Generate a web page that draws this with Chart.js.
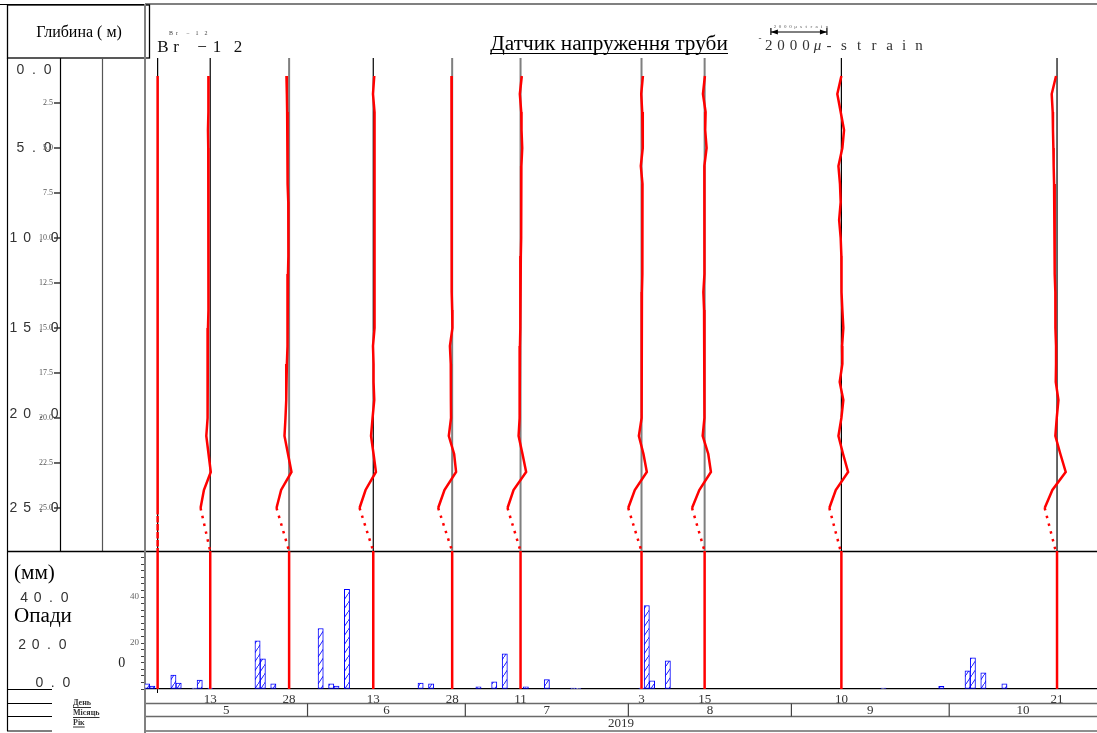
<!DOCTYPE html>
<html><head><meta charset="utf-8">
<script src="https://cdn.jsdelivr.net/npm/chart.js@4"></script>
<style>html,body{margin:0;padding:0;background:#fff;}canvas{display:block;}</style>
</head><body>
<canvas id="c" width="1097" height="733"></canvas>
<script>
// ---------------- DATA ----------------
const profileDates = ['2019-05-03','2019-05-13','2019-05-28','2019-06-13','2019-06-28','2019-07-11','2019-08-03','2019-08-15','2019-09-10','2019-10-21'];
const dateTickLabels = ['', '13', '28', '13', '28', '11', '3', '15', '10', '21'];
const depths = [1,2,3,4,5,6,7,8,9,10,11,12,13,14,15,16,17,18,19,20,21,22,23,24,25,27.4];
// strain readings (micro-strain) at each depth, one list per measuring date
const strainMay03 = [0,0,0,0,0,0,0,0,0,0,0,0,0,0,0,0,0,0,0,0,0,0,0,0,0,0];
const strainMay13 = [-60,-70,-60,-80,-70,-60,-70,-60,-50,-60,-70,-70,-60,-70,-80,-80,-90,-90,-100,-110,-140,-60,20,-225,-345,0];
const strainMay28 = [-95,-80,-70,-65,-60,-50,-40,-30,-25,-25,-30,-40,-40,-50,-70,-70,-80,-95,-110,-130,-165,-40,85,-285,-450,0];
const strainJun13 = [35,-10,45,50,50,50,50,50,45,45,45,45,40,40,40,-10,10,10,35,-25,-80,10,95,-275,-490,0];
const strainJun28 = [-25,-15,-15,-10,-10,-10,-15,-15,-20,-40,-30,-20,-10,0,10,-80,-50,-45,-45,-40,-120,70,140,-275,-500,0];
const strainJul11 = [45,-25,25,35,60,30,25,25,20,20,10,0,-10,-10,-10,-20,-30,-30,-35,-35,-70,70,200,-250,-465,0];
const strainAug03 = [50,-10,25,50,40,-25,35,35,30,30,30,25,15,15,15,10,10,-10,0,-10,-95,70,190,-240,-475,0];
const strainAug15 = [10,-60,35,20,70,-10,-10,-5,-5,0,-5,-15,-45,-20,-10,-10,-5,-10,-5,0,-70,130,225,-190,-450,0];
const strainSep10 = [0,-145,-25,95,35,-105,-50,-25,-80,-25,0,0,10,35,70,25,35,-60,70,0,-105,60,240,-200,-430,-25];
const strainOct21 = [-35,-190,-155,-145,-130,-120,-105,-95,-85,-80,-80,-75,-60,-60,-55,-35,-35,-45,50,-10,-60,120,310,-165,-440,-45];
const strainProfiles = [strainMay03,strainMay13,strainMay28,strainJun13,strainJun28,strainJul11,strainAug03,strainAug15,strainSep10,strainOct21];

const precipDates = ['2019-05-01','2019-05-02','2019-05-06','2019-05-07','2019-05-10','2019-05-11','2019-05-13','2019-05-22','2019-05-23','2019-05-25',
  '2019-06-03','2019-06-05','2019-06-06','2019-06-08','2019-06-22','2019-06-24','2019-07-03','2019-07-06','2019-07-08','2019-07-12',
  '2019-07-16','2019-07-21','2019-07-22','2019-08-03','2019-08-04','2019-08-05','2019-08-08','2019-09-18','2019-09-29','2019-10-04',
  '2019-10-05','2019-10-07','2019-10-11'];
const precipValues = [2.2,1.3,6.1,2.6,0.4,3.9,0.4,20.9,13.1,2.2,
  26.3,2.2,1.3,43.3,2.6,2.2,0.9,3.1,15.3,0.9,
  4.1,0.4,0.3,0.4,36.3,3.6,12.3,0.4,1.2,7.9,
  13.6,7.0,2.3];

const monthStarts = ['2019-05-01','2019-06-01','2019-07-01','2019-08-01','2019-09-01','2019-10-01'];
const monthLabels = ['5','6','7','8','9','10'];
const yearLabel = '2019';
const depthTicks = [2.5,5,7.5,10,12.5,15,17.5,20,22.5,25];
const depthBigTicks = [0,5,10,15,20,25];
const precipTickLabels = [20,40];
const strainScaleValue = 2000;   // micro-strain shown by the scale bar

// ---------------- HELPERS ----------------
const DAY0 = Date.UTC(2019,4,1);
const dayOf = s => { const p = s.split('-').map(Number); return (Date.UTC(p[0],p[1]-1,p[2]) - DAY0)/86400000; };
const X_MIN = -0.4, X_MAX = 180.6;
const STRAIN_BAR_DAYS = 10.65;            // axis length (days) of the 2000 μ-strain bar
const STRAIN_TO_DAYS = STRAIN_BAR_DAYS / strainScaleValue;
const STRAIN_BAR_START = 118.6;
const MAX_DEPTH = 27.39;
const PRECIP_MAX = 60;
const SERIF = '"Liberation Serif", "DejaVu Serif", serif';

// hatch pattern for rainfall bars
const pc = document.createElement('canvas'); pc.width = 6; pc.height = 9;
const pg = pc.getContext('2d');
pg.fillStyle = '#fff'; pg.fillRect(0,0,6,9);
pg.strokeStyle = '#1a1aff'; pg.lineWidth = 1;
pg.beginPath(); pg.moveTo(-1,10.5); pg.lineTo(7,-1.5); pg.stroke();
const hatch = pg.createPattern ? document.getElementById('c').getContext('2d').createPattern(pc,'repeat') : '#ccf';

const baselineGray = [false,false,true,false,true,true,true,true,false,false];

// ---------------- DATASETS ----------------
const datasets = [];
profileDates.forEach((dt,i) => {
  const d = dayOf(dt);
  datasets.push({
    type:'line', xAxisID:'x', yAxisID:'yD', order:0,
    data: depths.map((z,j) => ({x: d + strainProfiles[i][j]*STRAIN_TO_DAYS, y: z})),
    borderColor:'#ff0000', borderWidth:2.5, pointRadius:0, tension:0, fill:false,
    segment:{ borderDash: c => (c.p1.parsed.y > 25.001 ? [2.5,5.5] : undefined) }
  });
  datasets.push({
    type:'line', xAxisID:'x', yAxisID:'yD', order:1,
    data:[{x:d,y:0},{x:d,y:MAX_DEPTH}],
    borderColor: baselineGray[i] ? '#7f7f7f' : '#000000',
    borderWidth: baselineGray[i] ? 2 : 1.2, pointRadius:0, fill:false
  });
  datasets.push({
    type:'line', xAxisID:'x', yAxisID:'yP', order:1,
    data:[{x:d,y:0},{x:d,y:PRECIP_MAX}],
    borderColor:'#ff0000', borderWidth:2.5, pointRadius:0, fill:false
  });
});
datasets.push({
  type:'bar', xAxisID:'x', yAxisID:'yP', order:2,
  data: precipDates.map((s,i) => ({x: dayOf(s), y: precipValues[i]})),
  backgroundColor: hatch, borderColor:'#0000ff', borderWidth:1, borderSkipped:false,
  barPercentage:1, categoryPercentage:1
});

// ---------------- DECORATION PLUGIN ----------------
function line(ctx,x1,y1,x2,y2,color,w){ctx.save();ctx.strokeStyle=color;ctx.lineWidth=w;ctx.beginPath();ctx.moveTo(x1,y1);ctx.lineTo(x2,y2);ctx.stroke();ctx.restore();}
function text(ctx,s,x,y,font,color,align,base){ctx.save();ctx.font=font;ctx.fillStyle=color;ctx.textAlign=align||'center';ctx.textBaseline=base||'middle';ctx.fillText(s,x,y);ctx.restore();}
function spaced(ctx,s,cx,y,pitch,font,color){const ch=s.split('');const n=ch.length;ch.forEach((c,i)=>text(ctx,c,cx+(i-(n-1)/2)*pitch,y,font,color));}
function fitSize(ctx,s,family,target,base){ctx.save();ctx.font=base+'px '+family;const w=ctx.measureText(s).width;ctx.restore();return base*target/w;}

const decor = {
  id:'decor',
  beforeDatasetsDraw(chart){
    const ctx = chart.ctx, xS = chart.scales.x, yD = chart.scales.yD;
    const top = yD.top, mid = yD.bottom, bot = chart.chartArea.bottom;
    // frame
    line(ctx,0,4.5,145,4.5,'#000',1.2);
    line(ctx,145,4,1097,4,'#808080',2);
    ctx.save(); ctx.strokeStyle='#000'; ctx.lineWidth=1.3; ctx.strokeRect(7.5,5,142,top-5); ctx.restore();
    line(ctx,7.5,top,7.5,731,'#000',1.2);
    line(ctx,60.5,top,60.5,mid,'#000',1.2);
    line(ctx,102.5,top,102.5,mid,'#555',1.2);
    line(ctx,7,mid+0.5,1097,mid+0.5,'#000',1.3);
    [bot+0.5,703.5,716.5,731].forEach(y=>line(ctx,7,y,52,y,'#000',1.2));
    [703.5,716.5,731].forEach(y=>line(ctx,145,y,1097,y,'#6a6a6a',1.3));
    // month separators
    monthStarts.slice(1).forEach(s=>{const px=xS.getPixelForValue(dayOf(s)-0.5);line(ctx,px,703.5,px,716.5,'#444',1.2);});
    line(ctx,145,4,145,733,'#808080',2);
    // depth ticks
    depthTicks.forEach(v=>{const py=yD.getPixelForValue(v);line(ctx,54,py,60.5,py,'#000',1.2);});
  },
  afterDraw(chart){
    const ctx = chart.ctx, xS = chart.scales.x, yD = chart.scales.yD;
    // header box
    text(ctx,'Глибина ( м)',79,33,fitSize(ctx,'Глибина ( м)',SERIF,86,14).toFixed(1)+'px '+SERIF,'#000');
    // big depth labels
    depthBigTicks.forEach(v=>{
      const py = Math.max(yD.getPixelForValue(v), 70);
      spaced(ctx, v.toFixed(1), 34, py-(v===20?4:0), 13.7, '14px "Liberation Sans", "DejaVu Sans", sans-serif', '#333');
    });
    // small depth labels
    depthTicks.forEach(v=>{const py=yD.getPixelForValue(v);text(ctx,v.toFixed(1),53,py,'8px '+SERIF,'#555','right');});
    // Br-12 labels
    ['B','r','−','1','2'].forEach((c,i)=>text(ctx,c,[163,176,202,217,238][i],48,'17px '+SERIF,'#111'));
    ['B','r','−','1','2'].forEach((c,i)=>text(ctx,c,[171,177,188,197,206][i],33,'6px '+SERIF,'#444'));
    // title
    const title='Датчик напруження труби';
    const ts = fitSize(ctx,title,SERIF,238,20);
    text(ctx,title,609,50,ts.toFixed(1)+'px '+SERIF,'#000','center','alphabetic');
    line(ctx,490,53.5,728,53.5,'#000',1.2);
    // strain scale bar
    const xa = xS.getPixelForValue(STRAIN_BAR_START), xb = xS.getPixelForValue(STRAIN_BAR_START+STRAIN_BAR_DAYS);
    line(ctx,xa,32,xb,32,'#000',1);
    line(ctx,xa,28,xa,35,'#000',1.2); line(ctx,xb,28,xb,35,'#000',1.2);
    ctx.save(); ctx.fillStyle='#000';
    ctx.beginPath(); ctx.moveTo(xa,32); ctx.lineTo(xa+7,29.5); ctx.lineTo(xa+7,34.5); ctx.closePath(); ctx.fill();
    ctx.beginPath(); ctx.moveTo(xb,32); ctx.lineTo(xb-7,29.5); ctx.lineTo(xb-7,34.5); ctx.closePath(); ctx.fill();
    ctx.restore();
    spaced(ctx,String(strainScaleValue)+'μstrain',(xa+xb)/2+2,26.5,5.2,'5px '+SERIF,'#555');
    text(ctx,'-',760,39,'9px '+SERIF,'#333');
    const sChars = String(strainScaleValue).split('').concat(['μ','-','s','t','r','a','i','n']);
    const sX = [768.7,781,793.5,806,817.5,829,844,859,874,889.5,904,919];
    sChars.forEach((c,i)=>text(ctx,c,sX[i],46,(c==='μ'?'italic ':'')+'15px '+SERIF,'#333'));
    // precipitation panel texts
    text(ctx,'(мм)',14,573,fitSize(ctx,'(мм)',SERIF,41,20).toFixed(1)+'px '+SERIF,'#000','left');
    spaced(ctx,'40.0',44.3,598,13.5,'14px "Liberation Sans", "DejaVu Sans", sans-serif','#333');
    text(ctx,'Опади',14,616,fitSize(ctx,'Опади',SERIF,58,20).toFixed(1)+'px '+SERIF,'#000','left');
    spaced(ctx,'20.0',42.3,645.5,13.5,'14px "Liberation Sans", "DejaVu Sans", sans-serif','#333');
    text(ctx,'0',121.7,663,'14px '+SERIF,'#222');
    spaced(ctx,'0.0',52.8,683.5,13.5,'14px "Liberation Sans", "DejaVu Sans", sans-serif','#333');
    // table row captions
    [['День',703],['Місяць',713],['Рік',722.5]].forEach(([s,y])=>{
      ctx.save(); ctx.font='bold 8px '+SERIF; const w=ctx.measureText(s).width; ctx.restore();
      text(ctx,s,73,y,'bold 8px '+SERIF,'#333','left');
      line(ctx,73,y+4.5,73+w,y+4.5,'#333',1);
    });
    // month row and year row
    const bounds = [X_MIN].concat(monthStarts.slice(1).map(s=>dayOf(s)-0.5)).concat([X_MAX]);
    monthLabels.forEach((m,i)=>{
      const px=(xS.getPixelForValue(bounds[i])+xS.getPixelForValue(bounds[i+1]))/2;
      text(ctx,m,px,711,'13px '+SERIF,'#333');
    });
    text(ctx,yearLabel,(xS.left+xS.right)/2,723.5,'13px '+SERIF,'#333');
  }
};

// ---------------- CHART ----------------
new Chart(document.getElementById('c'), {
  type:'line',
  data:{datasets},
  options:{
    responsive:false, animation:false, devicePixelRatio:1,
    layout:{padding:{top:58,left:0,right:0,bottom:0}},
    plugins:{legend:{display:false}, tooltip:{enabled:false}, title:{display:false}},
    scales:{
      x:{
        type:'linear', min:X_MIN, max:X_MAX, offset:false, position:'bottom',
        afterBuildTicks: s => { s.ticks = profileDates.map(d => ({value: dayOf(d)})); },
        afterFit: s => { s.height = 44; },
        ticks:{autoSkip:false, maxRotation:0, callback:(v,i)=>dateTickLabels[i], font:{family:SERIF, size:13}, color:'#333', padding:-1},
        grid:{drawOnChartArea:false, offset:false, tickLength:4, tickColor: c => (c.index===0 ? '#000' : 'rgba(0,0,0,0)')},
        border:{display:true, color:'#000', width:1.2}
      },
      yD:{
        type:'linear', position:'left', stack:'v', stackWeight:493, weight:2, reverse:true, min:0, max:MAX_DEPTH,
        afterFit: s => { s.width = 145; },
        ticks:{display:false}, grid:{display:false}, border:{display:false}
      },
      yP:{
        type:'linear', position:'left', stack:'v', stackWeight:138, weight:1, min:0, max:PRECIP_MAX,
        afterBuildTicks: s => { s.ticks = Array.from({length:22}, (_,i) => ({value: i*PRECIP_MAX/21})); },
        afterFit: s => { s.width = 145; },
        ticks:{autoSkip:false, padding:2, font:{family:SERIF, size:9}, color:'#666',
          callback: v => { const r = Math.round(v); return (Math.abs(v-r) < 1e-6 && precipTickLabels.includes(r)) ? String(r) : ''; }},
        grid:{drawOnChartArea:false, tickLength:4, tickColor:'#444'},
        border:{display:true, color:'#808080', width:2}
      }
    }
  },
  plugins:[decor]
});
</script>
</body></html>
